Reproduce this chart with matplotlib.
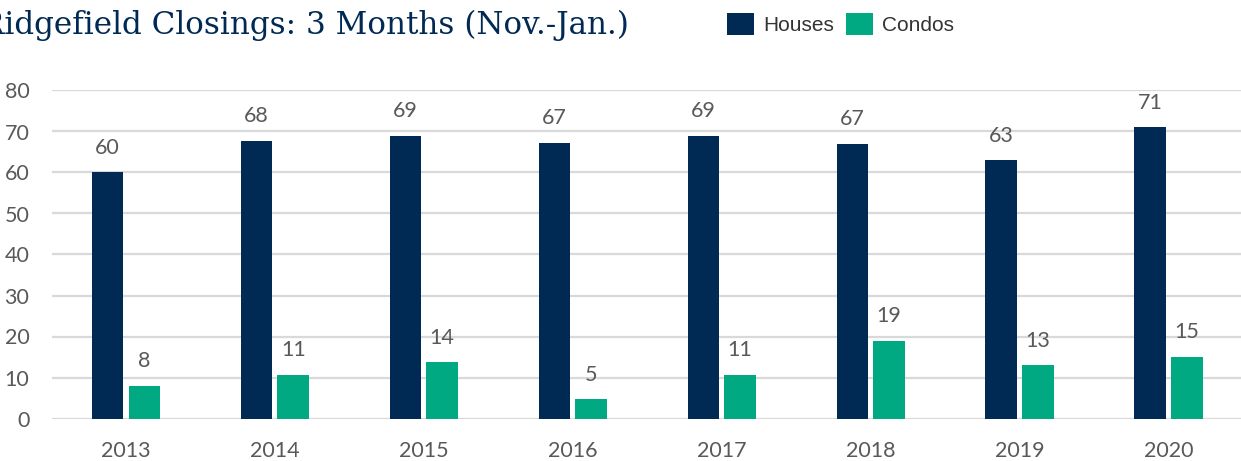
import matplotlib
matplotlib.use("Agg")
import matplotlib.pyplot as plt
import numpy as np
from matplotlib.patches import Patch

years = ["2013", "2014", "2015", "2016", "2017", "2018", "2019", "2020"]
houses = [60, 67.7, 69, 67.3, 69, 67, 63, 71]
condos = [8, 10.7, 13.7, 4.7, 10.7, 19, 13, 15]
yticks = [0, 10, 20, 30, 40, 50, 60, 70, 80]
title = "Ridgefield Closings: 3 Months (Nov.-Jan.)"
series_names = ["Houses", "Condos"]

NAVY = "#002A54"
TEAL = "#00A982"
GRID = "#D9D9D9"
TXT = "#595959"

W, H = 1241, 461
fig = plt.figure(figsize=(W / 100, H / 100), dpi=100)
ax = fig.add_axes([51.5 / W, 1 - 418.5 / H, (1243 - 51.5) / W, (418.5 - 90.5) / H])

x = np.arange(len(years))
bw = 0.212
off = 0.123
b1 = ax.bar(x - off, houses, bw, color=NAVY, zorder=3)
b2 = ax.bar(x + off, condos, bw, color=TEAL, zorder=3)

lab_font = dict(family="Lato", size=15.5, color=TXT)
for rects, vals in ((b1, houses), (b2, condos)):
    for r, v in zip(rects, vals):
        ax.annotate(f"{round(v):d}", (r.get_x() + r.get_width() / 2, r.get_height()),
                    xytext=(0, 18.5), textcoords="offset pixels",
                    ha="center", va="baseline", **lab_font)

ax.set_xlim(-0.5, 7.5)
ax.set_ylim(0, 80)
ax.set_yticks(yticks)
ax.set_xticks(x)
ax.set_xticklabels(years)
ax.yaxis.grid(True, color=GRID, linewidth=1.6, zorder=0)
ax.set_axisbelow(True)
for s in ax.spines.values():
    s.set_visible(False)
ax.tick_params(axis="both", length=0)
ax.tick_params(axis="x", pad=16)
ax.tick_params(axis="y", pad=16)
for t in ax.get_xticklabels() + ax.get_yticklabels():
    t.set_fontfamily("Lato")
    t.set_fontsize(15.5)
    t.set_color(TXT)

fig.text(-19 / W, 1 - 34 / H, title, family="DejaVu Serif", size=22.3,
         color=NAVY, ha="left", va="baseline")

handles = [Patch(facecolor=NAVY), Patch(facecolor=TEAL)]
fig.legend(handles, series_names, loc="center left",
           bbox_to_anchor=(727 / W, 1 - 24 / H), ncol=2, frameon=False,
           prop=dict(family="Liberation Sans", size=15),
           handlelength=1.3, handleheight=1.3, handletextpad=0.45,
           columnspacing=0.55, borderpad=0, borderaxespad=0, labelcolor="#333333")

fig.savefig("out.png", dpi=100)
